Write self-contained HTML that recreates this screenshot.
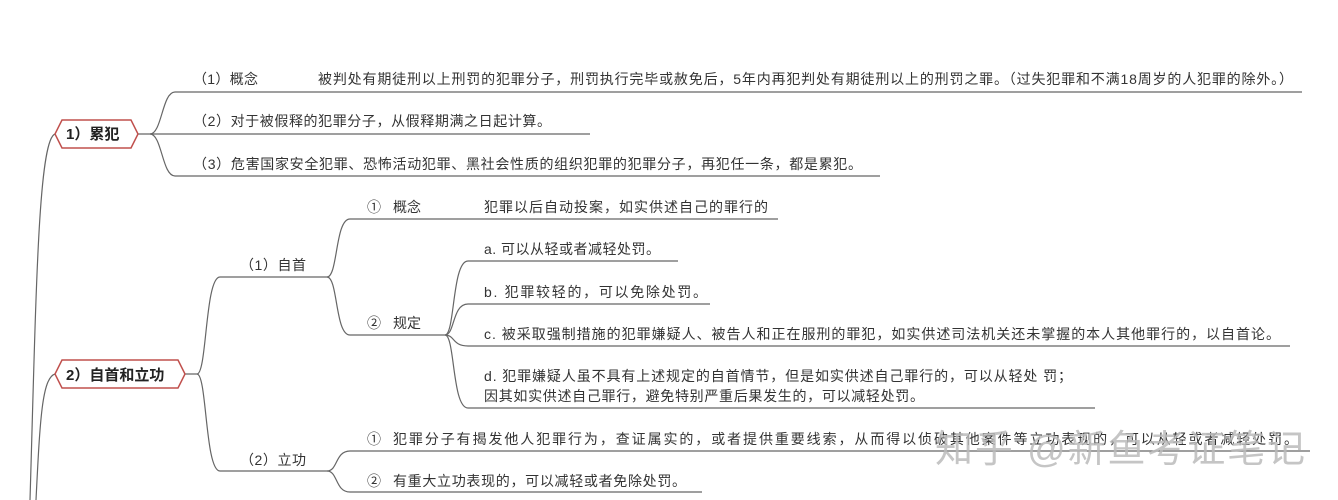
<!DOCTYPE html>
<html><head><meta charset="utf-8"><style>
html,body{margin:0;padding:0;background:#fff;}
svg{display:block;}
text{font-family:"Liberation Sans","Noto Sans CJK SC",sans-serif;font-size:14px;fill:#333;}
.b{font-weight:bold;font-size:15px;fill:#222;}
</style></head><body>
<svg width="1338" height="500" viewBox="0 0 1338 500" xmlns="http://www.w3.org/2000/svg">
<g fill="none" stroke="#666" stroke-width="1.2">
<!-- trunk -->
<path d="M30 500 C36 300 38 140 55 134"/>
<path d="M36 500 C40 420 42 378 55 374"/>
<!-- node1 branches -->
<path d="M138 134 H150 C162 134 162 92 175 92 H1302"/>
<path d="M150 134 H590"/>
<path d="M150 134 C162 134 162 176 175 176 H880"/>
<!-- node2 branches -->
<path d="M185 374 H197 C207 374 205 277 220 277 H327"/>
<path d="M197 374 C207 374 205 471 220 471 H327"/>
<!-- 自首 -->
<path d="M327 277 C338 277 335 219 350 219 H778"/>
<path d="M327 277 C338 277 335 335 350 335 H445"/>
<!-- 规定 -->
<path d="M445 335 C455 335 452 261 468 261 H678"/>
<path d="M445 335 C455 335 452 304 468 304 H710"/>
<path d="M445 335 C455 335 452 346 468 346 H1290"/>
<path d="M445 335 C455 335 452 408 468 408 H1095"/>
<!-- 立功 -->
<path d="M327 471 C338 471 335 451 350 451 H1310"/>
<path d="M327 471 C338 471 335 492 350 492 H702"/>
</g>
<!-- hex nodes -->
<polygon points="62,120 131,120 138,134 131,148 62,148 55,134" fill="#fff" stroke="#c0504d" stroke-width="1.5"/>
<text x="66" y="139" class="b">1）累犯</text>
<polygon points="62,360 178,360 185,374 178,388 62,388 55,374" fill="#fff" stroke="#c0504d" stroke-width="1.5"/>
<text x="66" y="380" class="b">2）自首和立功</text>

<text x="193" y="84" textLength="65">（1）概念</text>
<text x="318" y="84" textLength="975">被判处有期徒刑以上刑罚的犯罪分子，刑罚执行完毕或赦免后，5年内再犯判处有期徒刑以上的刑罚之罪。（过失犯罪和不满18周岁的人犯罪的除外。）</text>
<text x="193" y="126" textLength="358">（2）对于被假释的犯罪分子，从假释期满之日起计算。</text>
<text x="193" y="169" textLength="669">（3）危害国家安全犯罪、恐怖活动犯罪、黑社会性质的组织犯罪的犯罪分子，再犯任一条，都是累犯。</text>

<text x="240" y="270" textLength="66">（1）自首</text>
<text x="240" y="465" textLength="66">（2）立功</text>

<text x="367" y="212">①</text><text x="393" y="212">概念</text>
<text x="484" y="212" textLength="284">犯罪以后自动投案，如实供述自己的罪行的</text>
<text x="367" y="328">②</text><text x="393" y="328">规定</text>

<text x="484" y="254" textLength="176">a. 可以从轻或者减轻处罚。</text>
<text x="484" y="297" textLength="223">b. 犯罪较轻的，可以免除处罚。</text>
<text x="484" y="339" textLength="796">c. 被采取强制措施的犯罪嫌疑人、被告人和正在服刑的罪犯，如实供述司法机关还未掌握的本人其他罪行的，以自首论。</text>
<text x="484" y="381" textLength="588">d. 犯罪嫌疑人虽不具有上述规定的自首情节，但是如实供述自己罪行的，可以从轻处 罚；</text>
<text x="484" y="401" textLength="440">因其如实供述自己罪行，避免特别严重后果发生的，可以减轻处罚。</text>

<text x="367" y="444">①</text>
<text x="393" y="444" textLength="905">犯罪分子有揭发他人犯罪行为，查证属实的，或者提供重要线索，从而得以侦破其他案件等立功表现的，可以从轻或者减轻处罚。</text>
<text x="367" y="486">②</text>
<text x="393" y="486" textLength="293">有重大立功表现的，可以减轻或者免除处罚。</text>

<text x="935" y="462" style="font-size:38px;fill:#bbb;opacity:0.85" textLength="370">知乎 @新鱼考证笔记</text>
</svg>
</body></html>
